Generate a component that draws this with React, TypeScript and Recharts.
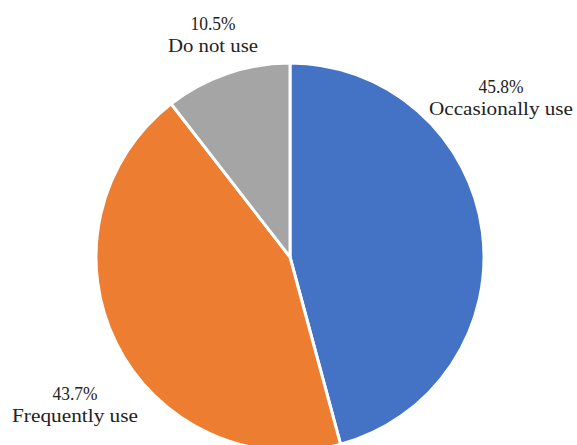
import React from "react";
import { PieChart, Pie, Cell } from "recharts";

const categories = ["Occasionally use", "Frequently use", "Do not use"];
const shares = [45.8, 43.7, 10.5];
const colors = ["#4472C4", "#ED7D31", "#A5A5A5"];

// label anchors relative to pie centre (Excel-style best fit placement)
const labelOffsets = [
  { dx: 211, dy: -164 },
  { dx: -215, dy: 143 },
  { dx: -77, dy: -227 },
];

const data = categories.map((name, i) => ({ name, value: shares[i] }));

const CHAR_W = 9;
const FONT = "'Liberation Serif', 'DejaVu Serif', serif";

const renderLabel = (props: any) => {
  const { cx, cy, index } = props;
  const off = labelOffsets[index];
  const x = cx + off.dx;
  const y = cy + off.dy;
  const line1 = `${shares[index].toFixed(1)}%`;
  const line2 = categories[index];
  return (
    <g fontFamily={FONT} fontSize={18} fill="#222">
      <text
        x={x}
        y={y}
        textAnchor="middle"
        textLength={line1.length * CHAR_W}
        lengthAdjust="spacingAndGlyphs"
      >
        {line1}
      </text>
      <text
        x={x}
        y={y + 22}
        textAnchor="middle"
        textLength={line2.length * CHAR_W}
        lengthAdjust="spacingAndGlyphs"
      >
        {line2}
      </text>
    </g>
  );
};

const App: React.FC = () => {
  return (
    <div style={{ position: "absolute", left: 0, top: 0, background: "#fff" }}>
      <PieChart
        width={577}
        height={445}
        margin={{ top: 0, right: 0, bottom: 0, left: 0 }}
      >
        <Pie
          data={data}
          dataKey="value"
          nameKey="name"
          cx={290}
          cy={257}
          outerRadius={194}
          startAngle={90}
          endAngle={-270}
          stroke="#fff"
          strokeWidth={3}
          label={renderLabel}
          labelLine={false}
          isAnimationActive={false}
        >
          {data.map((d, i) => (
            <Cell key={d.name} fill={colors[i]} />
          ))}
        </Pie>
      </PieChart>
    </div>
  );
};

export default App;
